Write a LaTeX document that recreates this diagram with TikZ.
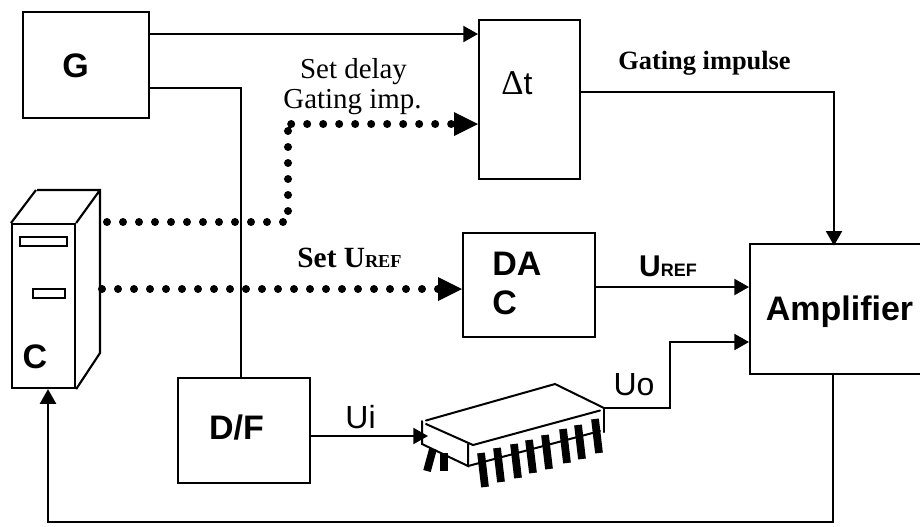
\documentclass[tikz,border=0pt]{standalone}
\usepackage{fontspec}
\setmainfont{Liberation Serif}
\setsansfont{Liberation Sans}
\usetikzlibrary{arrows.meta,calc}
\tikzset{
  blockbox/.style={draw=black,line width=1.6pt,fill=white,inner sep=0pt,anchor=north west},
  slotbox/.style={draw=black,line width=1.5pt,inner sep=0pt,anchor=north west},
  conn/.style={line width=1.6pt,-{Triangle[length=11pt,width=12pt]}},
  plainconn/.style={line width=1.6pt},
  dotconn/.style={line width=6pt,line cap=round,dash pattern=on 0pt off 12pt},
  bigtip/.style={fill=black,draw=none},
  chipline/.style={line width=1.5pt,line cap=round},
  pin/.style={line width=5.8pt},
  lab/.style={font=\sffamily\fontsize{24pt}{26pt}\selectfont,inner sep=0pt},
  blab/.style={font=\sffamily\bfseries\fontsize{25.5pt}{29.25pt}\selectfont,inner sep=0pt,align=left},
  slab/.style={font=\rmfamily\fontsize{21.7pt}{24pt}\selectfont,inner sep=0pt,align=center},
  sblab/.style={font=\rmfamily\bfseries\fontsize{19.8pt}{22pt}\selectfont,inner sep=0pt},
}
\begin{document}
\begin{tikzpicture}[x=0.75pt,y=-0.75pt]
\useasboundingbox (0,0) rectangle (920,526);
% blocks
\node[blockbox,minimum width=126*0.75pt,minimum height=106*0.75pt] (g) at (22,11) {};
\node[blockbox,minimum width=101*0.75pt,minimum height=159*0.75pt] (dt) at (478,19) {};
\node[blockbox,minimum width=132*0.75pt,minimum height=104*0.75pt] (dac) at (462,232) {};
\node[blockbox,minimum width=175*0.75pt,minimum height=130*0.75pt] (amp) at (749,243) {};
\node[blockbox,minimum width=132*0.75pt,minimum height=105*0.75pt] (df) at (177,377) {};
% computer
\node[blockbox,minimum width=63*0.75pt,minimum height=164*0.75pt] (pc) at (11,223) {};
\draw[plainconn] (pc.north west) -- (36,190) (37,190) -- (100,190) -- (100,353) -- (pc.south east) (pc.north east) -- (100,190);
\node[slotbox,minimum width=47*0.75pt,minimum height=9*0.75pt] (slota) at (19,236) {};
\node[slotbox,minimum width=32*0.75pt,minimum height=9*0.75pt] (slotb) at (32,288) {};
% block labels
\node[blab,anchor=base] (gt) at (75.5,77) {G};
\node[font=\sffamily\fontsize{24pt}{26pt}\selectfont,inner sep=0pt,anchor=base] (dtt) at (517,94) {{\rmfamily\fontsize{26pt}{28pt}\selectfont Δ}t};
\node[blab,anchor=north west] (dact) at (492,252) {DA\\C};
\node[blab,anchor=base] (ampt) at (839.5,320) {Amplifier};
\node[blab,anchor=base] (dft) at (236.5,439) {D/F};
\node[blab,anchor=base] (pct) at (35,368) {C};
% chip
\coordinate (c1) at (426,420.5);
\coordinate (c2) at (555,384);
\coordinate (c3) at (604,408);
\coordinate (c4) at (473,445);
\coordinate (c5) at (468,466);
\draw[chipline] (c1) -- (c2) -- (c3);
\draw[chipline] (426,424) -- (c4) -- (600,410.5);
\draw[chipline] (422,421) -- (422,444) -- (c5) -- (468,444);
\draw[chipline] (c5) -- (600,431);
\draw[chipline] (c3) -- (604,432);
\foreach \a/\b/\c/\d in {
 481/453/485/487, 497/448/501/482, 514/444/518/478, 529/440/533/473,
 545/435/549/469, 563/429/567/463, 578/425/582/459, 595/419/599/453,
 433/449/427/471, 444/453/444/471}
  \draw[pin] (\a,\b) -- (\c,\d);
% connectors
\draw[conn] (g.east |- 0,34) -- (dt.west |- 0,34);
\draw[plainconn] (g.east |- 0,88) -- (241,88) -- (df.north -| 241,0);
\draw[conn,shorten >=-2pt] (dt.east |- 0,92) -- (834,92) -- (amp.north -| 834,0);
\draw[conn] (dac.east |- 0,287) -- (amp.west |- 0,287);
\coordinate (chipout) at (604,408);
\draw[conn] (chipout) -- (670,408) -- (670,342) -- (amp.west |- 0,342);
\draw[conn] (df.east |- 0,436) -- (428,436);
\draw[conn] (amp.south -| 833,0) -- (833,522) -- (48,522) -- (pc.south -| 48,0);
% dotted control lines
\coordinate (da) at (107,222);
\draw[dotconn] (da) -- (288,222) -- (288,131) -- (283.5,124) -- (452,124);
\fill[bigtip] (dt.west |- 0,124) -- +(-24,-12) -- +(-24,12) -- cycle;
\coordinate (db) at (102,289);
\draw[dotconn] (db) -- (440,289);
\fill[bigtip] (dac.west |- 0,289) -- +(-24,-12) -- +(-24,12) -- cycle;
% labels
\node[slab,anchor=base] (l1) at (353.5,78) {Set delay};
\node[slab,anchor=base] (l2) at (352.5,108) {Gating imp.};
\node[sblab,anchor=base] (l3) at (704.5,69) {Gating impulse};
\node[font=\rmfamily\bfseries\fontsize{22pt}{24pt}\selectfont,inner sep=0pt,anchor=base] (l4) at (349.5,267) {Set U{\fontsize{13.7pt}{15pt}\selectfont REF}};
\node[font=\sffamily\bfseries\fontsize{22.5pt}{25pt}\selectfont,inner sep=0pt,anchor=base] (l5) at (668,276) {U{\fontsize{13.5pt}{15pt}\selectfont REF}};
\node[lab,anchor=base] (l6) at (360.5,428) {Ui};
\node[lab,anchor=base] (l7) at (634,395) {Uo};
\end{tikzpicture}
\end{document}
